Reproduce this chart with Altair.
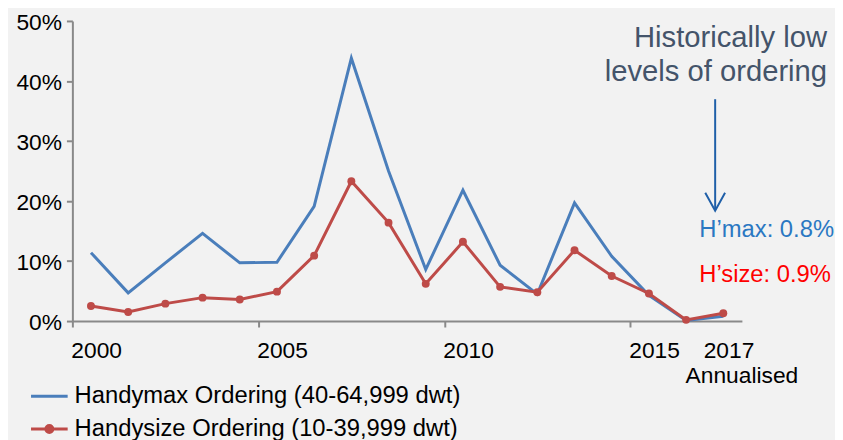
import altair as alt
import pandas as pd

years = list(range(2000, 2018))
handymax = [11.4, 4.7, 9.7, 14.6, 9.7, 9.8, 19.1, 43.8, 25.0, 8.6, 21.8, 9.3, 4.5, 19.7, 10.8, 4.3, 0.1, 0.8]
handysize = [2.5, 1.5, 2.9, 3.9, 3.6, 4.9, 10.9, 23.3, 16.4, 6.2, 13.2, 5.7, 4.8, 11.8, 7.5, 4.6, 0.2, 1.3]
series_names = ["Handymax Ordering (40-64,999 dwt)", "Handysize Ordering (10-39,999 dwt)"]
series_colors = ["#4A7EBB", "#BE4B48"]
y_ticks = [0, 10, 20, 30, 40, 50]
x_tick_values = [1999.5, 2004.5, 2009.5, 2014.5, 2016.5]
annualised_label = "Annualised"
annotation_title = ["Historically low", "levels of ordering"]
hmax_label = "H\u2019max: 0.8%"
hsize_label = "H\u2019size: 0.9%"

FONT = "Liberation Sans"
AXIS_GRAY = "#898989"

df = pd.DataFrame({
    "year": years + years,
    "value": handymax + handysize,
    "series": [series_names[0]] * len(years) + [series_names[1]] * len(years),
})

x_enc = alt.X(
    "year:Q",
    scale=alt.Scale(domain=[1999.5, 2017.5], nice=False, zero=False),
    axis=alt.Axis(
        values=x_tick_values,
        labelExpr="'' + (datum.value + 0.5)",
        tickOpacity={"condition": {"test": "datum.value > 2016", "value": 0}, "value": 1},
        domainColor=AXIS_GRAY, domainWidth=2, tickColor=AXIS_GRAY, tickWidth=2, tickSize=6,
        labelFont=FONT, labelFontSize=23, labelColor="black", labelPadding=13,
        labelOffset=24, labelBaseline="top", title=None, grid=False,
        labelFlush=False, labelOverlap=False,
    ),
)
y_enc = alt.Y(
    "value:Q",
    scale=alt.Scale(domain=[0, 50], nice=False),
    axis=alt.Axis(
        values=y_ticks, labelExpr="datum.value + '%'",
        domainColor=AXIS_GRAY, domainWidth=2, tickColor=AXIS_GRAY, tickWidth=2, tickSize=6,
        labelFont=FONT, labelFontSize=23, labelColor="black", labelPadding=5, labelOffset=2,
        title=None, grid=False, labelFlush=False, labelOverlap=False,
    ),
)

blue_line = alt.Chart(df).transform_filter(
    alt.datum.series == series_names[0]
).mark_line(strokeWidth=3, color=series_colors[0]).encode(x=x_enc, y=y_enc)

red_line = alt.Chart(df).transform_filter(
    alt.datum.series == series_names[1]
).mark_line(strokeWidth=3, color=series_colors[1]).encode(x=x_enc, y=y_enc)

red_points = alt.Chart(df).transform_filter(
    alt.datum.series == series_names[1]
).mark_circle(size=64, color=series_colors[1], opacity=1).encode(x=x_enc, y=y_enc)

legend_def = alt.Legend(
    orient="none", legendX=-35.25, legendY=367, title=None,
    labelFont=FONT, labelFontSize=24, labelColor="black", labelLimit=1000,
    symbolSize=342, symbolStrokeWidth=3, labelOffset=13.5, rowPadding=9, padding=0,
)
shape_paths = [
    "M-2,0H2",
    "M-2,0H2M0.38,0A0.38,0.38,0,1,1,-0.38,0A0.38,0.38,0,1,1,0.38,0Z",
]
legend_layer = alt.Chart(df).transform_filter("false").mark_point(
    filled=True, opacity=1, strokeWidth=3
).encode(
    x=x_enc, y=y_enc,
    fill=alt.Fill("series:N", scale=alt.Scale(domain=series_names, range=series_colors), legend=legend_def),
    stroke=alt.Stroke("series:N", scale=alt.Scale(domain=series_names, range=series_colors), legend=legend_def),
    shape=alt.Shape("series:N", scale=alt.Scale(domain=series_names, range=shape_paths), legend=legend_def),
)

one = alt.Data(values=[{}])
annualised_text = alt.Chart(one).mark_text(
    text=annualised_label, align="center", baseline="alphabetic", font=FONT,
    fontSize=23, color="black",
).encode(x=alt.value(676), y=alt.value(366))

title_text = alt.Chart(one).mark_text(
    text=annotation_title, align="right", baseline="alphabetic", font=FONT,
    fontSize=29.5, color="#44546A", lineHeight=35,
).encode(x=alt.value(762), y=alt.value(26))

arrow_shaft = alt.Chart(one).mark_rule(color="#1F5FA8", strokeWidth=2).encode(
    x=alt.value(649), y=alt.value(79), y2=alt.value(190)
)
arrow_head = alt.Chart(one).mark_point(
    shape="M-1,-1.8L0,0L1,-1.8", size=400, filled=False, strokeWidth=2,
    color="#1F5FA8", opacity=1,
).encode(x=alt.value(649), y=alt.value(191.5))

hmax_text = alt.Chart(one).mark_text(
    text=hmax_label, align="left", baseline="alphabetic", font=FONT, fontSize=24, color="#2A78C2"
).encode(x=alt.value(633), y=alt.value(218))
hsize_text = alt.Chart(one).mark_text(
    text=hsize_label, align="left", baseline="alphabetic", font=FONT, fontSize=24, color="#FF0000"
).encode(x=alt.value(633), y=alt.value(264))

chart = alt.layer(
    blue_line, red_line, red_points, legend_layer, annualised_text,
    title_text, arrow_shaft, arrow_head, hmax_text, hsize_text,
).properties(
    width=676, height=303,
    autosize=alt.AutoSizeParams(type="none"),
    padding={"left": 65, "top": 11, "right": 94, "bottom": 118},
    background="#F2F2F2",
).configure_view(stroke=None)

chart.save("out.html", embed_options={"renderer": "svg", "actions": False})
